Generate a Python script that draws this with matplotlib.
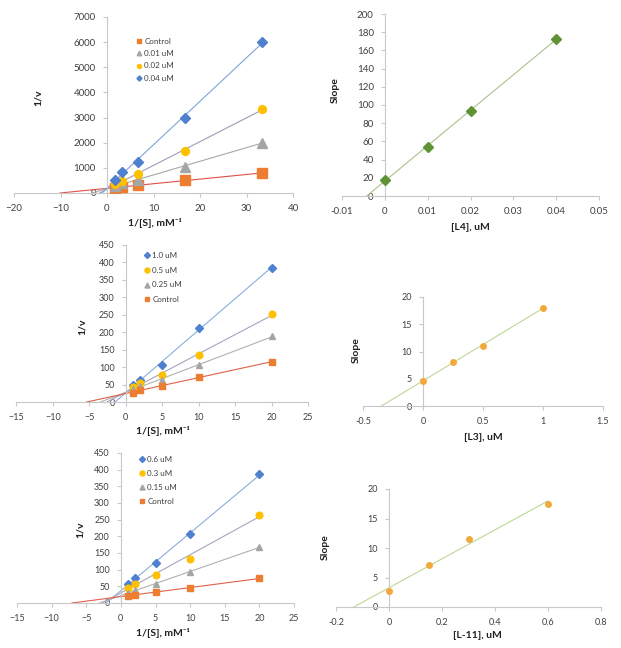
import numpy as np
import matplotlib
matplotlib.use("Agg")
import matplotlib.pyplot as plt

plt.rcParams['font.family'] = ['Lato', 'DejaVu Sans']

# ---- data ----
# top row: L4
s_inv_L4 = [1.67, 3.33, 6.67, 16.67, 33.33]
v_ctrl_L4 = [190, 250, 330, 500, 790]
v_001_L4 = [280, 380, 520, 1050, 2000]
v_002_L4 = [350, 480, 750, 1680, 3330]
v_004_L4 = [520, 840, 1250, 3000, 6000]
conc_L4 = [0, 0.01, 0.02, 0.04]
slope_L4 = [18, 54, 93, 173]

# middle row: L3
s_inv_L3 = [1, 2, 5, 10, 20]
v_ctrl_L3 = [27, 34, 47, 73, 114]
v_025_L3 = [38, 46, 62, 106, 188]
v_05_L3 = [42, 54, 78, 134, 251]
v_10_L3 = [49, 63, 106, 213, 385]
conc_L3 = [0, 0.25, 0.5, 1.0]
slope_L3 = [4.6, 8.1, 11.1, 18.0]

# bottom row: L-11
s_inv_L11 = [1, 2, 5, 10, 20]
v_ctrl_L11 = [22, 25, 33, 45, 74]
v_015_L11 = [31, 38, 56, 93, 168]
v_03_L11 = [46, 58, 85, 133, 265]
v_06_L11 = [57, 74, 120, 206, 386]
conc_L11 = [0, 0.15, 0.3, 0.6]
slope_L11 = [2.7, 7.1, 11.5, 17.5]

# colours
ORANGE = '#ed7d31'
GRAY = '#a5a5a5'
YELLOW = '#ffc000'
BLUE = '#4f81d0'
GREEN = '#5e9235'
LIGHTORANGE = '#f2a93b'
AXIS = '#c8c8c8'
TICKTXT = '#404040'

W, H = 621, 648
fig = plt.figure(figsize=(W / 100, H / 100), dpi=100)


def px_axes(x0, x1, ytop, ybot):
    return fig.add_axes([x0 / W, 1 - ybot / H, (x1 - x0) / W, (ybot - ytop) / H])


def style(ax, xlim, ylim, xticks, yticks, fs):
    ax.set_xlim(*xlim)
    ax.set_ylim(*ylim)
    ax.set_xticks(xticks)
    ax.set_yticks(yticks)
    ax.patch.set_alpha(0)
    for s in ['top', 'right']:
        ax.spines[s].set_visible(False)
    ax.spines['left'].set_position(('data', 0))
    ax.spines['bottom'].set_position(('data', 0))
    for s in ['left', 'bottom']:
        ax.spines[s].set_color(AXIS)
        ax.spines[s].set_linewidth(0.8)
    ax.tick_params(length=3, width=0.8, color=AXIS, labelsize=fs,
                   labelcolor=TICKTXT, pad=5)


def trend(ax, x, y, color, lw=0.8):
    # linear trendline, drawn back to where it meets y = 0
    k, b = np.polyfit(x, y, 1)
    x0 = -b / k
    xs = np.array([x0, max(x)])
    ax.plot(xs, k * xs + b, color=color, lw=lw, zorder=2)


def label(x, y, text, rot=0):
    fig.text(x / W, 1 - y / H, text, ha='center', va='center', rotation=rot,
             fontsize=7.5, fontweight='bold', color='#202020')


def lb_panel(ax, x, series, ms):
    # series: (values, name, marker, colour, line colour, size factor)
    for vals, name, mk, col, lcol, f in series:
        trend(ax, x, vals, lcol)
    for vals, name, mk, col, lcol, f in series:
        ax.plot(x, vals, mk, color=col, ms=ms * f, mec=col, label=name,
                zorder=3, ls='none')


# ---------- panel 1 ----------
ax1 = px_axes(14, 293, 17, 193)
style(ax1, (-20, 40), (0, 7000), range(-20, 41, 10), range(0, 7001, 1000), 7)
ser1 = [
    (v_ctrl_L4, 'Control', 's', ORANGE, '#e0504a', 1.1),
    (v_001_L4, '0.01 uM', '^', GRAY, '#a8a8a8', 1.05),
    (v_002_L4, '0.02 uM', 'o', YELLOW, '#9c9cba', 0.9),
    (v_004_L4, '0.04 uM', 'D', BLUE, '#7ea4d8', 0.82),
]
lb_panel(ax1, s_inv_L4, ser1, 6.3)
ax1.legend(loc='upper left', bbox_to_anchor=(133 / W, 1 - 34 / H),
           bbox_transform=fig.transFigure, frameon=False, fontsize=5.8,
           markerscale=0.5, handlelength=0.6, handletextpad=0.3,
           labelspacing=0.65, borderpad=0, labelcolor=TICKTXT)
label(155, 223, '1/[S], mM⁻¹')
label(38, 98, '1/v', 90)

# ---------- panel 2 ----------
ax2 = px_axes(342, 599, 14, 196)
style(ax2, (-0.01, 0.05), (0, 200), np.round(np.arange(-0.01, 0.051, 0.01), 2),
      range(0, 201, 20), 7)
ax2.xaxis.set_major_formatter(matplotlib.ticker.FuncFormatter(lambda v, p: f'{v:g}'))
trend(ax2, conc_L4, slope_L4, '#a9c48a')
ax2.plot(conc_L4, slope_L4, 'D', color=GREEN, ms=5.5, zorder=3)
label(470, 228, '[L4], uM')
label(335, 90, 'Slope', 90)

# ---------- panel 3 ----------
ax3 = px_axes(16.5, 308, 245, 402)
style(ax3, (-15, 25), (0, 450), range(-15, 26, 5), range(0, 451, 50), 6.5)
ser3 = [
    (v_10_L3, '1.0 uM', 'D', BLUE, '#8aaddc', 0.85),
    (v_05_L3, '0.5 uM', 'o', YELLOW, '#a4a4be', 1.0),
    (v_025_L3, '0.25 uM', '^', GRAY, '#b0b0b0', 1.0),
    (v_ctrl_L3, 'Control', 's', ORANGE, '#e0604a', 0.95),
]
lb_panel(ax3, s_inv_L3, ser3, 4.8)
ax3.legend(loc='upper left', bbox_to_anchor=(141 / W, 1 - 248 / H),
           bbox_transform=fig.transFigure, frameon=False, fontsize=5.8,
           markerscale=0.75, handlelength=0.6, handletextpad=0.3,
           labelspacing=0.95, borderpad=0, labelcolor=TICKTXT)
label(163, 431, '1/[S], mM⁻¹')
label(82, 327, '1/v', 90)

# ---------- panel 4 ----------
ax4 = px_axes(363, 603, 297, 406)
style(ax4, (-0.5, 1.5), (0, 20), [-0.5, 0, 0.5, 1, 1.5], range(0, 21, 5), 6.5)
ax4.xaxis.set_major_formatter(matplotlib.ticker.FuncFormatter(lambda v, p: f'{v:g}'))
trend(ax4, conc_L3, slope_L3, '#bcd894')
ax4.plot(conc_L3, slope_L3, 'o', color=LIGHTORANGE, ms=4, zorder=3)
label(483, 438, '[L3], uM')
label(356, 350, 'Slope', 90)

# ---------- panel 5 ----------
ax5 = px_axes(17, 294, 453, 603)
style(ax5, (-15, 25), (0, 450), range(-15, 26, 5), range(0, 451, 50), 6.5)
ser5 = [
    (v_06_L11, '0.6 uM', 'D', BLUE, '#8aaddc', 0.85),
    (v_03_L11, '0.3 uM', 'o', YELLOW, '#a4a4be', 1.0),
    (v_015_L11, '0.15 uM', '^', GRAY, '#b0b0b0', 1.0),
    (v_ctrl_L11, 'Control', 's', ORANGE, '#e0604a', 0.95),
]
lb_panel(ax5, s_inv_L11, ser5, 4.8)
ax5.legend(loc='upper left', bbox_to_anchor=(136 / W, 1 - 452 / H),
           bbox_transform=fig.transFigure, frameon=False, fontsize=5.8,
           markerscale=0.75, handlelength=0.6, handletextpad=0.3,
           labelspacing=0.85, borderpad=0, labelcolor=TICKTXT)
label(163, 633, '1/[S], mM⁻¹')
label(80, 530, '1/v', 90)

# ---------- panel 6 ----------
ax6 = px_axes(336, 601, 489, 607)
style(ax6, (-0.2, 0.8), (0, 20), np.round(np.arange(-0.2, 0.81, 0.2), 1),
      range(0, 21, 5), 6.5)
ax6.xaxis.set_major_formatter(matplotlib.ticker.FuncFormatter(lambda v, p: f'{v:g}'))
trend(ax6, conc_L11, slope_L11, '#bcd894')
ax6.plot(conc_L11, slope_L11, 'o', color=LIGHTORANGE, ms=4, zorder=3)
label(477, 636, '[L-11], uM')
label(325, 547, 'Slope', 90)

fig.savefig('out.png', dpi=100)
